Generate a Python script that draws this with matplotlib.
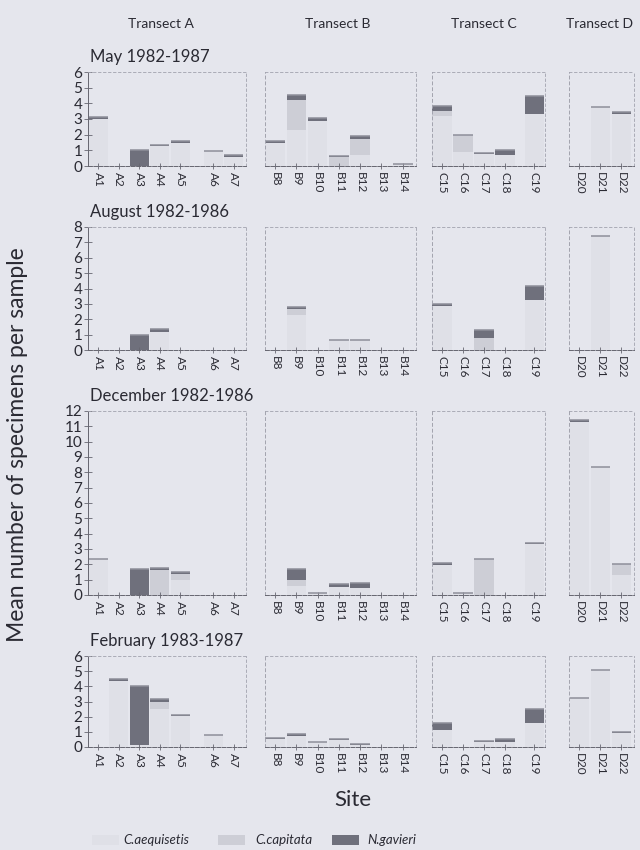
import matplotlib
matplotlib.use("Agg")
import matplotlib.pyplot as plt
import numpy as np
from matplotlib.patches import Rectangle

plt.rcParams["font.family"] = ["Lato", "DejaVu Sans"]

# sites per transect
SITES_A = ["A1", "A2", "A3", "A4", "A5", "A6", "A7"]
SITES_B = ["B8", "B9", "B10", "B11", "B12", "B13", "B14"]
SITES_C = ["C15", "C16", "C17", "C18", "C19"]
SITES_D = ["D20", "D21", "D22"]
TRANSECTS = ["Transect A", "Transect B", "Transect C", "Transect D"]

# mean specimens per sample, sites A1..D22
MAY_AEQ = [3.0, 0, 0, 1.25, 1.5, 0.95, 0.6,  1.5, 2.3, 2.9, 0, 0.7, 0, 0.1,  3.2, 0.9, 0.75, 0.7, 3.3,  0, 3.75, 3.35]
MAY_CAP = [0, 0, 0, 0, 0, 0, 0,  0, 1.9, 0, 0.55, 1.05, 0, 0,  0.3, 1.1, 0, 0, 0,  0, 0, 0]
MAY_GAV = [0.1, 0, 1.0, 0.12, 0.08, 0, 0.1,  0.1, 0.35, 0.15, 0.12, 0.15, 0, 0,  0.3, 0, 0.1, 0.3, 1.15,  0, 0, 0.12]

AUG_AEQ = [0, 0, 0, 1.2, 0, 0, 0,  0, 2.3, 0, 0.65, 0.65, 0, 0,  2.85, 0, 0, 0, 3.25,  0, 7.4, 0]
AUG_CAP = [0, 0, 0, 0, 0, 0, 0,  0, 0.35, 0, 0, 0, 0, 0,  0, 0, 0.75, 0, 0,  0, 0, 0]
AUG_GAV = [0, 0, 1.0, 0.15, 0, 0, 0,  0, 0.15, 0, 0, 0, 0, 0,  0.12, 0, 0.55, 0, 0.9,  0, 0, 0]

DEC_AEQ = [2.35, 0, 0, 0, 1.0, 0, 0,  0, 0.6, 0.1, 0.55, 0.45, 0, 0,  1.95, 0.15, 0, 0, 3.3,  11.3, 8.35, 1.3]
DEC_CAP = [0, 0, 0, 1.6, 0.35, 0, 0,  0, 0.4, 0, 0, 0, 0, 0,  0, 0, 2.35, 0, 0,  0, 0, 0.7]
DEC_GAV = [0, 0, 1.7, 0.15, 0.12, 0, 0,  0, 0.7, 0, 0.15, 0.35, 0, 0,  0.15, 0, 0, 0, 0.1,  0.1, 0, 0.05]

FEB_AEQ = [0, 4.35, 0.1, 2.5, 2.05, 0.8, 0,  0.55, 0.75, 0.3, 0.45, 0.1, 0, 0,  1.1, 0, 0.3, 0.3, 1.6,  3.2, 5.1, 0.9]
FEB_CAP = [0, 0, 0, 0.5, 0, 0, 0,  0, 0, 0, 0, 0, 0, 0,  0, 0, 0, 0, 0,  0, 0, 0]
FEB_GAV = [0, 0.12, 3.9, 0.15, 0.07, 0, 0,  0.05, 0.12, 0, 0.1, 0.1, 0, 0,  0.45, 0, 0.1, 0.2, 0.9,  0, 0, 0.12]

MONTHS = ["May 1982-1987", "August 1982-1986", "December 1982-1986", "February 1983-1987"]
YMAX = [6, 8, 12, 6]
SERIES = [(MAY_AEQ, MAY_CAP, MAY_GAV), (AUG_AEQ, AUG_CAP, AUG_GAV),
          (DEC_AEQ, DEC_CAP, DEC_GAV), (FEB_AEQ, FEB_CAP, FEB_GAV)]

# layout (pixels on a 640x850 canvas)
W, H = 640, 850
ROWS_PX = [(72, 166), (227, 350), (411, 595), (656, 747)]          # top, bottom
COLS_PX = [(88, 246), (264.5, 415.5), (431.5, 545), (569, 634)]    # left, right
XPOS = [[0, 1, 2, 3, 4, 5.6, 6.6], list(range(7)), [0, 1, 2, 3, 4.4], [0, 1, 2]]
XLIM_HI = [7.2, 6.6, 4.9, 2.6]
SITES = [SITES_A, SITES_B, SITES_C, SITES_D]
HEAD_X = [161, 338, 484, 600]

BG = "#e5e6ed"
C_AEQ = "#dfe0e7"
C_CAP = "#cdced6"
C_GAV = "#6f707c"
TOPLINE = "#8e8f9a"
AXC = "#666670"
TXT = "#2a2a33"
BW = 0.92

fig = plt.figure(figsize=(W / 100, H / 100), dpi=100)
fig.patch.set_facecolor(BG)

for r, (aeq, cap, gav) in enumerate(SERIES):
    top, bot = ROWS_PX[r]
    start = 0
    for c, sites in enumerate(SITES):
        n = len(sites)
        left, right = COLS_PX[c]
        ax = fig.add_axes([left / W, 1 - bot / H, (right - left) / W, (bot - top) / H])
        ax.set_facecolor("none")
        a = np.array(aeq[start:start + n])
        cp = np.array(cap[start:start + n])
        g = np.array(gav[start:start + n])
        start += n
        pos = np.array(XPOS[c])

        ax.bar(pos, a, width=BW, color=C_AEQ, linewidth=0)
        ax.bar(pos, cp, bottom=a, width=BW, color=C_CAP, linewidth=0)
        ax.bar(pos, g, bottom=a + cp, width=BW, color=C_GAV, linewidth=0)
        tot = a + cp + g
        m = tot > 0
        ax.hlines(tot[m], pos[m] - BW / 2, pos[m] + BW / 2, color=TOPLINE, lw=1.1)

        ax.set_xlim(-0.5, XLIM_HI[c])
        ax.set_ylim(0, YMAX[r])
        ax.set_xticks(pos)
        ax.set_xticklabels(sites, rotation=-90, fontsize=8.5, color=TXT)
        ax.tick_params(axis="x", direction="inout", length=4, width=0.6, color=AXC, pad=2)

        if c == 0:
            ax.set_yticks(range(0, YMAX[r] + 1))
            ax.tick_params(axis="y", direction="inout", length=6, width=0.6, color=AXC,
                           labelsize=11, labelcolor=TXT, pad=1)
        else:
            ax.set_yticks([])

        for side in ("top", "right"):
            ax.spines[side].set_color("#a2a3ae")
            ax.spines[side].set_linestyle((0, (3, 3)))
            ax.spines[side].set_linewidth(0.6)
        ax.spines["bottom"].set_color(AXC)
        ax.spines["bottom"].set_linestyle((0, (4, 1.5)))
        ax.spines["bottom"].set_linewidth(0.7)
        ax.spines["left"].set_color(AXC if c == 0 else "#a2a3ae")
        ax.spines["left"].set_linestyle("-" if c == 0 else (0, (3, 3)))
        ax.spines["left"].set_linewidth(0.7)

    fig.text(90 / W, 1 - (top - 15) / H, MONTHS[r], fontsize=12, color=TXT,
             ha="left", va="center")

# transect headers
for name, cx in zip(TRANSECTS, HEAD_X):
    fig.text(cx / W, 1 - 24 / H, name, fontsize=10, color=TXT, ha="center", va="center")

fig.text(18 / W, 1 - 445 / H, "Mean number of specimens per sample", rotation=90,
         fontsize=16.5, color=TXT, ha="center", va="center")
fig.text(353 / W, 1 - 800 / H, "Site", fontsize=16, color=TXT, ha="center", va="center")

# legend
LEG = [("C.aequisetis", C_AEQ, 92, 123), ("C.capitata", C_CAP, 218, 255), ("N.gavieri", C_GAV, 332, 367)]
for label, col, px, tx in LEG:
    fig.patches.append(Rectangle((px / W, 1 - 845 / H), 27 / W, 10 / H, transform=fig.transFigure,
                                 facecolor=col, edgecolor="none"))
    fig.text(tx / W, 1 - 840 / H, label, fontsize=9.5, style="italic", color=TXT,
             ha="left", va="center")

fig.savefig("out.png", dpi=100, facecolor=BG)
